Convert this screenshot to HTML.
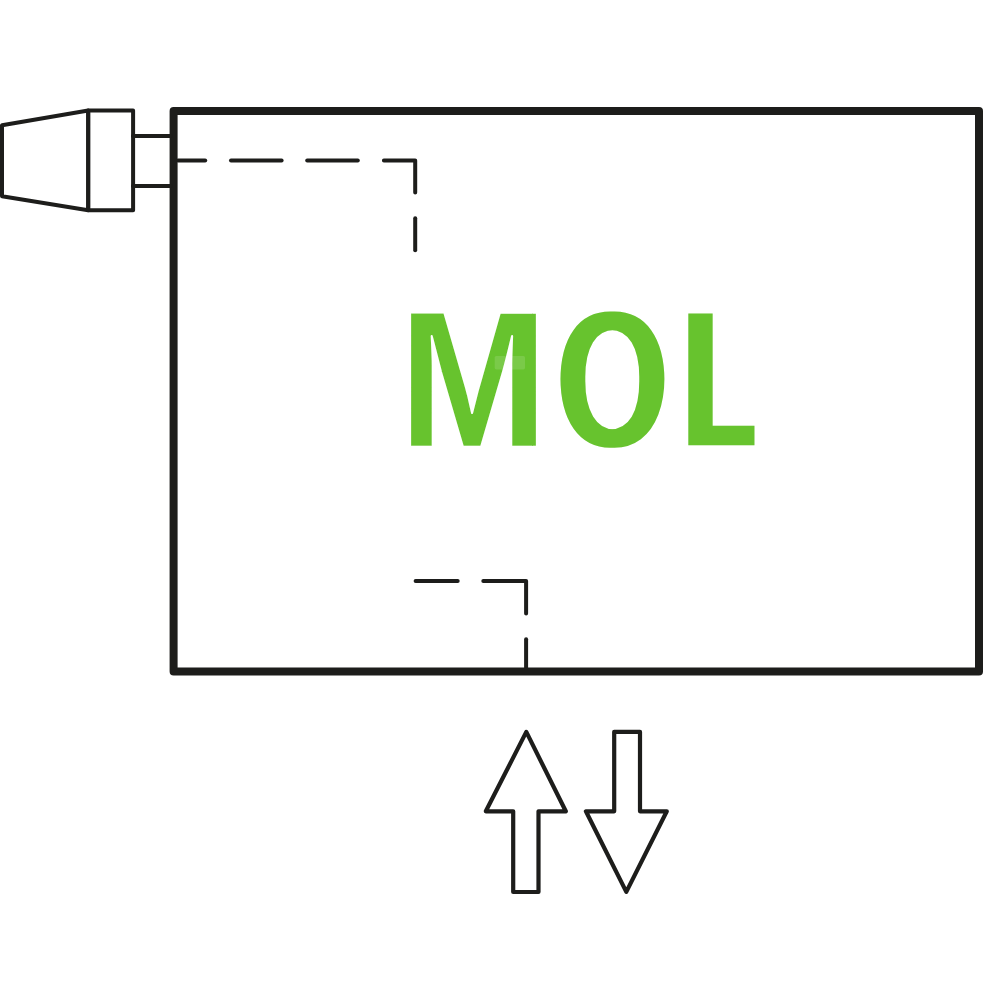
<!DOCTYPE html>
<html lang="en">
<head>
<meta charset="utf-8">
<title>MOL</title>
<style>
  html, body { margin: 0; padding: 0; background: #ffffff; }
  body { width: 1000px; height: 1000px; overflow: hidden; }
  svg { display: block; }
  .k { fill: none; stroke: #1d1d1b; }
  .lbl { font-family: "Liberation Sans", sans-serif; font-weight: bold; fill: #67c32e; }
</style>
</head>
<body>
<svg width="1000" height="1000" viewBox="0 0 1000 1000">
  <rect x="0" y="0" width="1000" height="1000" fill="#ffffff"/>

  <!-- radiator body -->
  <rect class="k" x="173.6" y="111" width="805.4" height="560.4" stroke-width="8" stroke-linejoin="round"/>

  <!-- valve -->
  <g class="k" stroke-width="4" stroke-linejoin="round" stroke-linecap="round">
    <polygon points="2,125.3 88.2,110.5 88.2,210.2 2,196.2"/>
    <rect x="88.2" y="110.5" width="44.9" height="99.7"/>
    <line x1="133" y1="136" x2="171" y2="136"/>
    <line x1="133" y1="186" x2="171" y2="186"/>
  </g>

  <!-- dashed internal pipes -->
  <g class="k" stroke-width="4" stroke-linecap="round" stroke-linejoin="round">
    <line x1="178" y1="160.5" x2="205.2" y2="160.5"/>
    <line x1="231" y1="160.5" x2="281.6" y2="160.5"/>
    <line x1="307.2" y1="160.5" x2="357.8" y2="160.5"/>
    <polyline points="383.9,160.5 415.2,160.5 415.2,192.5"/>
    <line x1="415.2" y1="218.3" x2="415.2" y2="250.2"/>

    <line x1="415.6" y1="581.1" x2="457.7" y2="581.1"/>
    <polyline points="483.3,581.1 526.1,581.1 526.1,613.5"/>
    <line x1="526.1" y1="639.3" x2="526.1" y2="668"/>
  </g>

  <!-- arrows -->
  <g class="k" stroke-width="4.2" stroke-linejoin="round">
    <polygon points="526.3,731.9 565.8,811.3 538.5,811.3 538.5,892 513.2,892 513.2,811.3 485.8,811.3"/>
    <polygon points="614.2,731.8 640,731.8 640,811.3 666.8,811.3 626.3,891.9 585.9,811.3 614.2,811.3"/>
  </g>

  <!-- label -->
  <defs>
    <filter id="fM" filterUnits="userSpaceOnUse" x="390" y="290" width="170" height="180" color-interpolation-filters="sRGB">
      <feColorMatrix in="SourceGraphic" type="matrix" values="0 0 0 0 0  0 0 0 0 0  0 0 0 0 0  0 0 -1.22 1.22 0" result="a"/>
      <feFlood flood-color="#67c32e" result="g"/>
      <feComposite in="g" in2="a" operator="in" result="m"/>
      <feOffset in="m" dx="3" dy="0" x="532" y="300" width="8" height="160" result="o"/>
      <feMerge><feMergeNode in="o"/><feMergeNode in="m"/></feMerge>
    </filter>
    <filter id="fO" filterUnits="userSpaceOnUse" x="540" y="290" width="150" height="180" color-interpolation-filters="sRGB">
      <feMorphology operator="dilate" radius="2 0" result="d"/>
      <feMorphology in="d" operator="erode" radius="0 2"/>
    </filter>
    <filter id="fL" filterUnits="userSpaceOnUse" x="670" y="290" width="110" height="180" color-interpolation-filters="sRGB">
      <feMorphology operator="dilate" radius="4 0" result="d"/>
      <feMorphology in="d" operator="erode" radius="0 1"/>
    </filter>
  </defs>
  <g class="lbl" font-size="185" text-rendering="geometricPrecision"><g filter="url(#fM)"><text transform="matrix(0.9570,0.0006,0,1.0553,398.36,446.7)" stroke="#ffffff" stroke-width="2.09" stroke-linejoin="round">M</text></g><g filter="url(#fO)"><text transform="matrix(0.7780,0.0006,0,1.0700,556.5,447.75)">O</text></g><g filter="url(#fL)"><text transform="matrix(0.6120,0.0006,0,1.0512,684.76,446.2)">L</text></g></g>
  <rect x="494.7" y="355.9" width="30.3" height="13.5" rx="1.6" fill="#ffffff" fill-opacity="0.13"/>
</svg>
</body>
</html>
